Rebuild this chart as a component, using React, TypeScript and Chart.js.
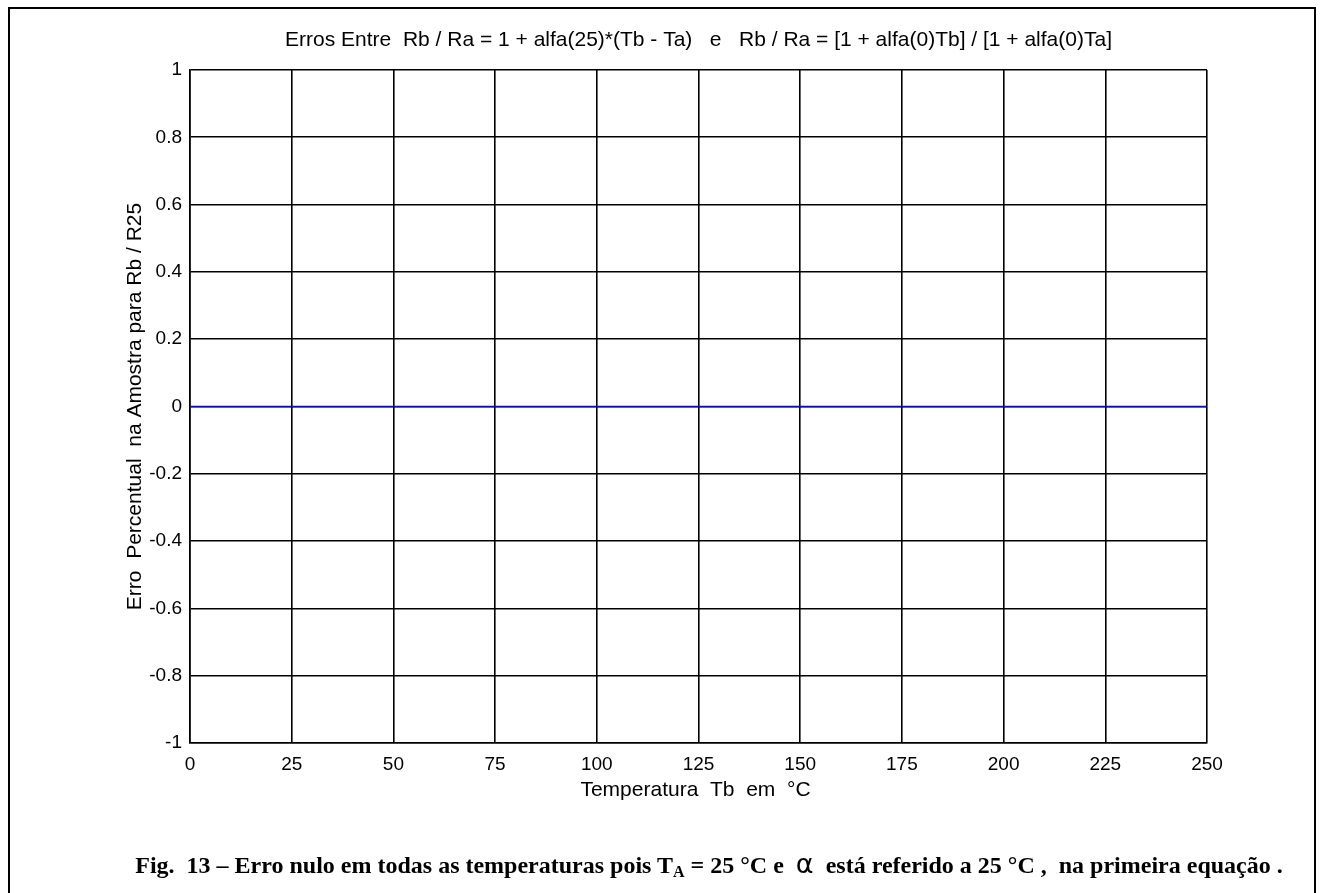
import React, { useEffect, useRef } from "react";
import { Chart, registerables } from "chart.js";

Chart.register(...registerables);

const temperatures = [0, 25, 50, 75, 100, 125, 150, 175, 200, 225, 250];
const errors = [0, 0, 0, 0, 0, 0, 0, 0, 0, 0, 0];
const xTickValues = [0, 25, 50, 75, 100, 125, 150, 175, 200, 225, 250];
const yTickLabels = ["-1", "-0.8", "-0.6", "-0.4", "-0.2", "0", "0.2", "0.4", "0.6", "0.8", "1"];

const chartTitle = "Erros Entre  Rb / Ra = 1 + alfa(25)*(Tb - Ta)   e   Rb / Ra = [1 + alfa(0)Tb] / [1 + alfa(0)Ta]";
const xTitle = "Temperatura  Tb  em  °C";
const yTitle = "Erro  Percentual  na Amostra para Rb / R25";

const FONT = '"Liberation Sans", Arial, sans-serif';

const textPlugin = {
  id: "textPlugin",
  afterDraw(chart: any) {
    const { ctx, chartArea } = chart;
    ctx.save();
    ctx.fillStyle = "#000";
    ctx.font = `21px ${FONT}`;
    ctx.textAlign = "center";
    ctx.textBaseline = "middle";
    const cx = (chartArea.left + chartArea.right) / 2;
    ctx.fillText(chartTitle, cx, 40);
    ctx.fillText(xTitle, cx - 3, 790);
    ctx.translate(135, (chartArea.top + chartArea.bottom) / 2);
    ctx.rotate(-Math.PI / 2);
    ctx.fillText(yTitle, 0, 0);
    ctx.restore();
  },
};

export default function App() {
  const ref = useRef<HTMLCanvasElement | null>(null);
  useEffect(() => {
    if (!ref.current) return;
    const tickFont = { family: FONT, size: 19 };
    const chart = new Chart(ref.current, {
      type: "line",
      data: {
        datasets: [
          {
            data: temperatures.map((t, i) => ({ x: t, y: errors[i] })),
            borderColor: "#0000ff",
            borderWidth: 1.5,
            pointRadius: 0,
          },
        ],
      },
      options: {
        responsive: false,
        animation: false,
        layout: { padding: { left: 0, top: 70, right: 113, bottom: 0 } },
        plugins: { legend: { display: false }, tooltip: { enabled: false }, title: { display: false } },
        scales: {
          x: {
            type: "linear",
            min: 0,
            max: 250,
            afterBuildTicks: (s: any) => {
              s.ticks = xTickValues.map((v) => ({ value: v }));
            },
            ticks: { color: "#000", font: tickFont, padding: 10, maxRotation: 0, autoSkip: false, callback: (v: any) => String(v) },
            grid: { color: "#000", lineWidth: 1.6, drawTicks: false },
            border: { color: "#000", width: 1.6 },
            afterFit: (s: any) => {
              s.height = 150;
            },
          },
          y: {
            type: "linear",
            min: -1,
            max: 1,
            afterBuildTicks: (s: any) => {
              s.ticks = yTickLabels.map((l) => ({ value: parseFloat(l) }));
            },
            ticks: {
              color: "#000",
              font: tickFont,
              padding: 8,
              autoSkip: false,
              callback: (v: any, i: number) => yTickLabels[i],
            },
            grid: { color: "#000", lineWidth: 1.6, drawTicks: false },
            border: { color: "#000", width: 1.6 },
            afterFit: (s: any) => {
              s.width = 190;
            },
          },
        },
      },
      plugins: [textPlugin],
    });
    return () => chart.destroy();
  }, []);

  return (
    <div style={{ position: "absolute", left: 0, top: 0, width: 1320, height: 893, overflow: "hidden", background: "#fff" }}>
      <canvas ref={ref} width={1320} height={893} style={{ position: "absolute", left: 0, top: 0, width: 1320, height: 893 }} />
      <div
        style={{
          position: "absolute",
          left: 8,
          top: 7,
          width: 1308,
          height: 900,
          border: "2px solid #000",
          boxSizing: "border-box",
          pointerEvents: "none",
        }}
      />
      <div
        style={{
          position: "absolute",
          left: 0,
          width: 1418,
          top: 850,
          textAlign: "center",
          fontFamily: '"Liberation Serif", "Times New Roman", serif',
          fontWeight: "bold",
          fontSize: 24,
          lineHeight: "28px",
          whiteSpace: "pre",
          color: "#000",
        }}
      >
        {"Fig.  13 – Erro nulo em todas as temperaturas pois T"}
        <sub style={{ fontSize: 16, verticalAlign: "-4px" }}>A</sub>
        {" = 25 °C e  "}
        <span style={{ fontFamily: '"DejaVu Sans", sans-serif', fontWeight: "normal", fontSize: 27 }}>α</span>
        {"  está referido a 25 °C ,  na primeira equação ."}
      </div>
    </div>
  );
}
